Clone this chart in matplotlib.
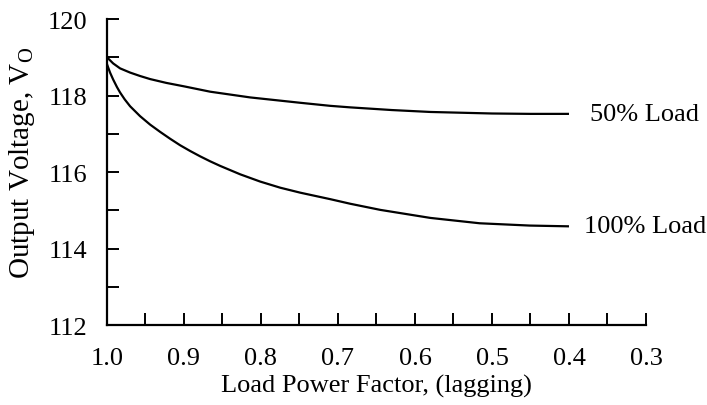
import matplotlib
matplotlib.use("Agg")
import matplotlib.pyplot as plt

plt.rcParams['font.family'] = ['Liberation Serif', 'DejaVu Serif']
plt.rcParams['mathtext.fontset'] = 'custom'
plt.rcParams['mathtext.rm'] = 'Liberation Serif'
plt.rcParams['mathtext.it'] = 'Liberation Serif:italic'

# Data
pf_50 = [1.0, 0.992, 0.983, 0.970, 0.957, 0.944, 0.923, 0.9, 0.866, 0.814, 0.749,
         0.71, 0.684, 0.63, 0.58, 0.5, 0.45, 0.4]
v_50 = [119.0, 118.84, 118.71, 118.6, 118.51, 118.43, 118.33, 118.24, 118.1, 117.95, 117.81,
        117.73, 117.69, 117.62, 117.57, 117.53, 117.52, 117.52]

pf_100 = [1.0, 0.996, 0.992, 0.987, 0.983, 0.977, 0.970, 0.957, 0.944, 0.931, 0.918, 0.905, 0.892, 0.879, 0.866,
          0.853, 0.827, 0.801, 0.775, 0.749, 0.71, 0.684, 0.645, 0.58, 0.516, 0.451, 0.4]
v_100 = [118.82, 118.6, 118.42, 118.22, 118.08, 117.9, 117.72, 117.46, 117.24, 117.05, 116.87, 116.70, 116.55, 116.41, 116.28,
         116.16, 115.94, 115.75, 115.59, 115.46, 115.29, 115.17, 115.01, 114.8, 114.66, 114.6, 114.58]

labels = ["50% Load", "100% Load"]
x_major = [1.0, 0.9, 0.8, 0.7, 0.6, 0.5, 0.4, 0.3]
x_minor = [0.95, 0.85, 0.75, 0.65, 0.55, 0.45, 0.35]
y_major = [112, 114, 116, 118, 120]
y_minor = [113, 115, 117, 119]

fig = plt.figure(figsize=(7.07, 4.06), dpi=100)
ax = fig.add_axes([0.1513, 0.197, 0.9137 - 0.1513, 0.9507 - 0.197])

ax.plot(pf_50, v_50, color='black', lw=1.6, solid_capstyle='butt', solid_joinstyle='round')
ax.plot(pf_100, v_100, color='black', lw=1.6, solid_capstyle='butt', solid_joinstyle='round')

ax.annotate(labels[0], (pf_50[-1], v_50[-1]), xytext=(15, 0), textcoords='offset points',
            va='center', ha='left', fontsize=19, annotation_clip=False)
ax.annotate(labels[1], (pf_100[-1], v_100[-1]), xytext=(11, 0), textcoords='offset points',
            va='center', ha='left', fontsize=19, annotation_clip=False)

ax.set_xlim(1.0, 0.3)
ax.set_ylim(112, 120)
ax.set_xticks(x_major)
ax.set_xticklabels([f"{v:.1f}" for v in x_major])
ax.set_xticks(x_minor, minor=True)
ax.set_yticks(y_major)
ax.set_yticks(y_minor, minor=True)

for s in ['top', 'right']:
    ax.spines[s].set_visible(False)
for s in ['left', 'bottom']:
    ax.spines[s].set_linewidth(1.6)

ax.tick_params(axis='both', which='both', direction='in', length=8.5, width=1.4, labelsize=19)
ax.tick_params(axis='x', which='both', pad=16)
ax.tick_params(axis='y', which='both', pad=14)

ax.set_xlabel("Load Power Factor, (lagging)", fontsize=19, labelpad=3)
ax.set_ylabel("Output Voltage, V$_{\\mathrm{O}}$", fontsize=21)
ax.yaxis.set_label_coords(-0.13, 0.534)

fig.savefig("out.png", dpi=100)
